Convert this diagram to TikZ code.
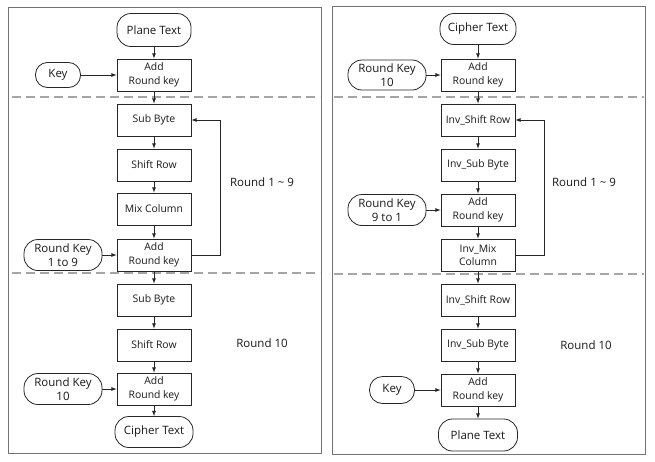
\documentclass[tikz,border=0pt]{standalone}
\usepackage{fontspec}
\setmainfont{Open Sans}
\begin{document}
\begin{tikzpicture}[x=1pt, y=-1pt, >=latex, line width=0.8pt, draw=black!85, text=black!90,
  box/.style={draw, minimum width=74pt, minimum height=32pt, align=center, inner sep=1pt, font=\fontsize{10.4}{13.5}\selectfont},
  term/.style={draw, rounded corners=14pt, minimum height=31pt, align=center, inner sep=1pt, font=\fontsize{11.5}{14.5}\selectfont},
  lbl/.style={font=\fontsize{11.5}{14}\selectfont},
  sep/.style={draw=black!35, dash pattern=on 9pt off 5pt, line width=1.3pt},
  panel/.style={draw=black!55, line width=1pt}]
\useasboundingbox (0,0) rectangle (655,461);

\draw[panel] (8,7) rectangle (321,453);
\draw[panel] (332,6) rectangle (645,454);
\draw[sep] (12,97) -- (320,97);
\draw[sep] (12,273) -- (320,273);
\draw[sep] (334,97) -- (644,97);
\draw[sep] (334,274) -- (644,274);

\node [term, minimum width=74pt, minimum height=33pt] (pt1) at (154,30) {Plane Text};
\node [box] (ark1) at (154,75) {Add\\Round key};
\node [term, minimum width=45pt, minimum height=25pt, rounded corners=12pt] (key1) at (58,75) {Key};
\node [box] (sb1) at (154,120) {Sub Byte};
\node [box] (sr1) at (154,165) {Shift Row};
\node [box] (mc1) at (154,209) {Mix Column};
\node [box] (ark2) at (154,255) {Add\\Round key};
\node [term, minimum width=78pt] (rk1) at (63,255) {Round Key\\1 to 9};
\node [box] (sb2) at (154,300) {Sub Byte};
\node [box] (sr2) at (154,345) {Shift Row};
\node [box] (ark3) at (154,389) {Add\\Round key};
\node [term, minimum width=78pt] (rk2) at (63,389) {Round Key\\10};
\node [term, minimum width=78pt] (ct1) at (154,432) {Cipher Text};
\node [lbl] (r1) at (262,182) {Round 1 \textasciitilde{} 9};
\node [lbl] (r2) at (262,343) {Round 10};
\coordinate (lp1) at (220,0);

\draw[->] (pt1) -- (ark1);
\draw[->] (key1) -- (ark1);
\draw[->] (ark1) -- (sb1);
\draw[->] (sb1) -- (sr1);
\draw[->] (sr1) -- (mc1);
\draw[->] (mc1) -- (ark2);
\draw[->] (rk1) -- (ark2);
\draw[->] (ark2.east) -- (ark2.east -| lp1) |- (sb1.east);
\draw[->] (ark2) -- (sb2);
\draw[->] (sb2) -- (sr2);
\draw[->] (sr2) -- (ark3);
\draw[->] (rk2) -- (ark3);
\draw[->] (ark3) -- (ct1);

\node [term, minimum width=76pt] (ct2) at (478,29) {Cipher Text};
\node [box] (ark4) at (478,75) {Add\\Round key};
\node [term, minimum width=78pt, minimum height=30pt] (rk3) at (387,75) {Round Key\\10};
\node [box] (isr1) at (478,120) {Inv\_Shift Row};
\node [box] (isb1) at (478,165) {Inv\_Sub Byte};
\node [box] (ark5) at (478,210) {Add\\Round key};
\node [term, minimum width=78pt] (rk4) at (387,210) {Round Key\\9 to 1};
\node [box] (imc) at (478,255) {Inv\_Mix\\Column};
\node [box] (isr2) at (478,300) {Inv\_Shift Row};
\node [box] (isb2) at (478,345) {Inv\_Sub Byte};
\node [box] (ark6) at (478,390) {Add\\Round key};
\node [term, minimum width=45pt, minimum height=27pt, rounded corners=13pt] (key2) at (392,390) {Key};
\node [term, minimum width=79pt, minimum height=32pt] (pt2) at (478,435) {Plane Text};
\node [lbl] (r3) at (584,182) {Round 1 \textasciitilde{} 9};
\node [lbl] (r4) at (586,345) {Round 10};
\coordinate (lp2) at (544,0);

\draw[->] (ct2) -- (ark4);
\draw[->] (rk3) -- (ark4);
\draw[->] (ark4) -- (isr1);
\draw[->] (isr1) -- (isb1);
\draw[->] (isb1) -- (ark5);
\draw[->] (rk4) -- (ark5);
\draw[->] (ark5) -- (imc);
\draw[->] (imc.east) -- (imc.east -| lp2) |- (isr1.east);
\draw[->] (imc) -- (isr2);
\draw[->] (isr2) -- (isb2);
\draw[->] (isb2) -- (ark6);
\draw[->] (key2) -- (ark6);
\draw[->] (ark6) -- (pt2);
\end{tikzpicture}
\end{document}
